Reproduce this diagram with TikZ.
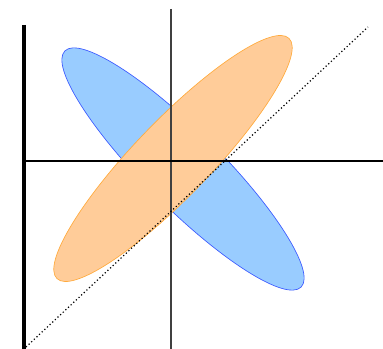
\documentclass[tikz,border=0pt]{standalone}
\usepackage{tikz}
\usetikzlibrary{positioning}
\definecolor{bluefill}{RGB}{153,204,255}
\definecolor{blueline}{RGB}{60,90,255}
\definecolor{orangefill}{RGB}{255,204,153}
\definecolor{orangeline}{RGB}{255,170,60}
\begin{document}
\begin{tikzpicture}[
        x=0.75pt, y=0.75pt,
        blueblob/.style={fill=bluefill, draw=blueline, line width=0.5pt},
        orangeblob/.style={fill=orangefill, draw=orangeline, line width=0.5pt},
        axis/.style={draw=black, line width=0.8pt},
        thickaxis/.style={draw=black, line width=2.3pt},
        diagline/.style={draw=black, line width=0.9pt, dash pattern=on 0.9pt off 1.8pt}
    ]

    % Bounding box (same proportions as the reference)
    \useasboundingbox (-171,-188) rectangle (212,161);

    % Ellisse blu (inclinata verso il basso)
    \draw[blueblob, rotate around={-45:(12,-8)}] (12,-8) ellipse (167 and 38);

    % Ellisse arancione (inclinata verso l'alto)
    \draw[orangeblob, rotate around={46:(2,2.5)}] (2,2.5) ellipse (167 and 38);

    % Estremi degli assi
    \coordinate (ytop) at (-147,136);
    \coordinate (ybot) at (-147,-188);
    \coordinate (xleft) at (-147,0);
    \coordinate (xright) at (212,0);
    \coordinate (vtop) at (0,152);
    \coordinate (vbot) at (0,-188);
    \coordinate (dstart) at (-145,-186);
    \coordinate (dend) at (197,134);

    % Assi
    \draw[axis, draw=black!75] (vtop) -- (vbot);
    \draw[axis] (xleft) -- (xright);
    \draw[thickaxis] (ytop) -- (ybot);

    % Diagonale tratteggiata
    \draw[diagline] (dstart) -- (dend);

\end{tikzpicture}
\end{document}
